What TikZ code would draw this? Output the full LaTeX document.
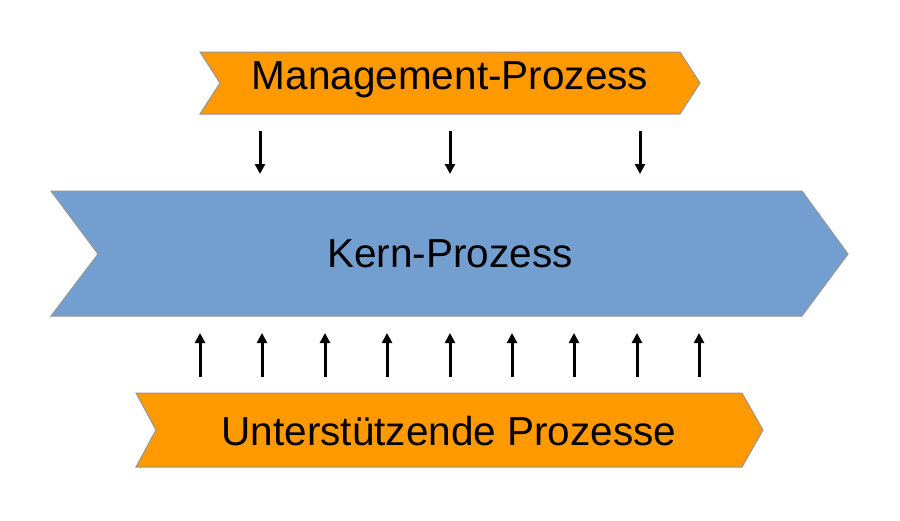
\documentclass[tikz,border=0pt]{standalone}
\usepackage{fontspec}
\setmainfont{Liberation Sans}
\usetikzlibrary{arrows.meta}
\definecolor{orangeP}{RGB}{255,153,0}
\definecolor{blueP}{RGB}{114,159,207}
\definecolor{edgeP}{RGB}{150,150,150}
\tikzset{
  shapebox/.style={draw=edgeP, line width=1pt, line join=miter},
  label/.style={font=\fontsize{40.5}{48}\selectfont, text=black, inner sep=0pt},
  flow/.style={line width=3pt, -{Triangle[width=10pt,length=10pt]}, black}
}
\begin{document}
\begin{tikzpicture}[x=1pt,y=-1pt]
\useasboundingbox (0,0) rectangle (900,520);
\fill[white] (0,0) rectangle (900,520);
% shapes
\draw[shapebox, fill=orangeP] (200,52) -- (680,52) -- (700,83) -- (680,114) -- (200,114) -- (220,83) -- cycle;
\draw[shapebox, fill=blueP] (51,191) -- (802,191) -- (848,254) -- (802,316) -- (51,316) -- (98,254) -- cycle;
\draw[shapebox, fill=orangeP] (136,393) -- (742,393) -- (763,430) -- (742,467) -- (136,467) -- (156,430) -- cycle;
% labels
\node[label] (mgmt) at (450,80) {Management-Prozess};
\node[label] (kern) at (450,254) {Kern-Prozess};
\node[label] (unter) at (449,431) {Unterstützende Prozesse};
% down arrows
\foreach \i/\x in {1/260,2/450,3/640}{
  \coordinate (d\i s) at (\x,131);
  \coordinate (d\i e) at (\x,174);
  \draw[flow] (d\i s) -- (d\i e);
}
% up arrows
\foreach \i/\x in {1/200,2/262,3/325,4/387,5/450,6/512,7/574,8/637,9/699}{
  \coordinate (u\i s) at (\x,377);
  \coordinate (u\i e) at (\x,333);
  \draw[flow] (u\i s) -- (u\i e);
}
\end{tikzpicture}
\end{document}
